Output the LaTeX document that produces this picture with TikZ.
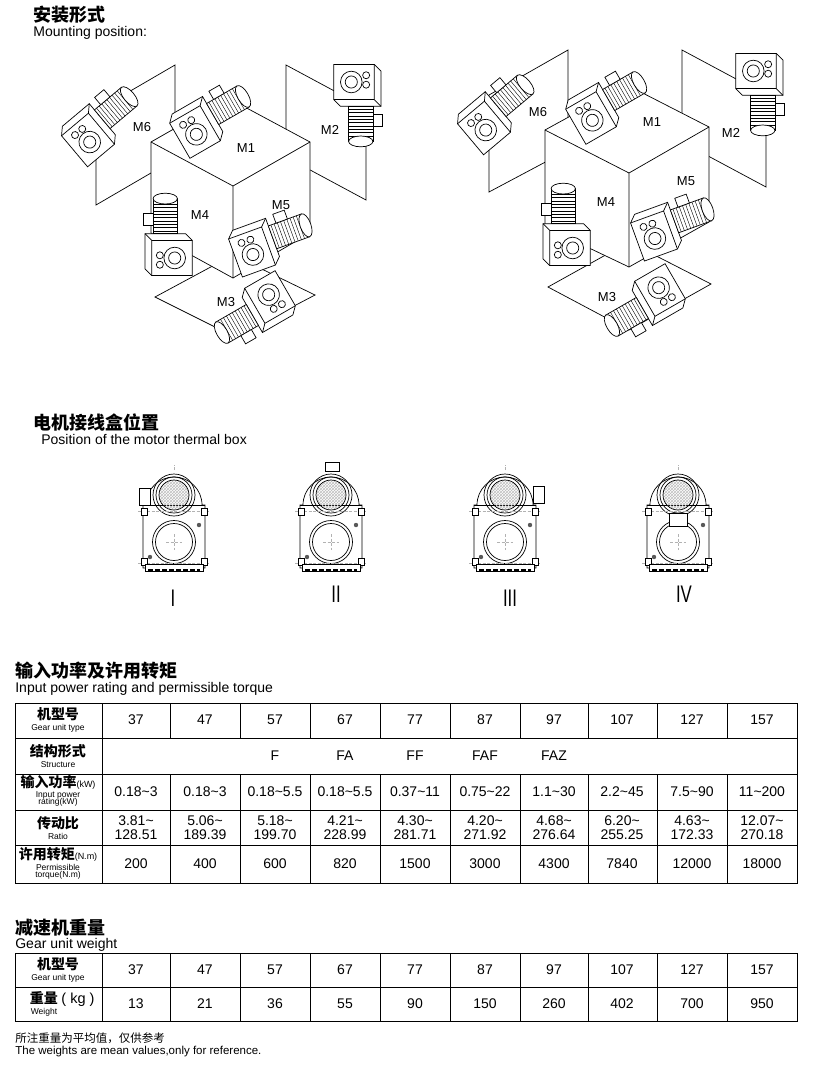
\documentclass[tikz,border=0pt]{standalone}
\usepackage{fontspec}
\setmainfont{Liberation Sans}
\newfontfamily\cjk{Noto Sans CJK SC}
\newcommand\hzf{\cjk\bfseries\fontsize{14}{14}\selectfont}
\usetikzlibrary{patterns}
\begin{document}
\begin{tikzpicture}[x=1pt,y=-1pt,line width=0.7pt,
  lab/.style={font=\fontsize{13}{13}\selectfont},
  hcn/.style={anchor=west,font=\cjk\bfseries\fontsize{18}{18}\selectfont,inner sep=0},
  hen/.style={anchor=west,font=\fontsize{14}{14}\selectfont,inner sep=0},
  cell/.style={font=\fontsize{14}{15}\selectfont,align=center,inner sep=0},
  hcell/.style={align=center,inner sep=0,font=\fontsize{8.5}{8}\selectfont},
  gm/.pic={
    \draw[fill=white] (-13,-15) -- (-8,-20) -- (18,-20) -- (18,10) -- (13,15) -- (-13,15) -- cycle;
    \draw (-13,-15) -- (13,-15) -- (13,15) (13,-15)--(18,-20);
    \draw (0,2) circle (8) (0,2) circle (4.5);
    \draw (-5,-9) circle (2.6) (2,-9) circle (2.6);
    \draw[fill=white] (18,-14) rectangle (44,4);
    \foreach \i in {20,22.5,...,40} \draw[line width=0.4pt] (\i,-14)--(\i,4);
    \draw[fill=white] (44,-5) ellipse (4 and 9);
    \draw[fill=white] (24,-21) rectangle (33,-14);
  },
  tb/.pic={
    \draw[fill=white] (-31,10) -- (-28,10) arc (180:360:28) -- (31,10) -- (31,73) -- (-31,73) -- cycle;
    \draw (-31,10) -- (31,10);
    \draw (0,0) circle (21) (0,0) circle (18);
    \draw[pattern=crosshatch,pattern color=gray!50] (0,0) circle (15);
    \draw (0,47) circle (21.5) (0,47) circle (18.5);
    \draw[gray!60,line width=0.3pt,dash pattern=on 3pt off 1.5pt] (-8,47)--(8,47) (0,39)--(0,55) (0,-25)--(0,-30) (-36,16)--(36,16) (-36,68)--(36,68);
    \foreach \x in {-33,27} {\draw[fill=white] (\x,13) rectangle ++(6,7); \draw[fill=white] (\x,63) rectangle ++(6,7);}
    \fill[gray!70!black] (25,30) circle (2.2) (-24,62) circle (2.2);
    \draw[fill=white] (-29,69) rectangle (29,76);
    \draw[line width=1.2pt,dash pattern=on 5pt off 2pt] (-26,75)--(26,75);
  }]
\useasboundingbox (0,0) rectangle (832,1080);
\fill[white] (0,0) rectangle (832,1080);

% headers
\node[hcn] (h1) at (33,15) {安装形式};
\node[hen] (h1e) at (33,33) {Mounting position:};
\node[hcn] (h2) at (33,422) {电机接线盒位置};
\node[hen] (h2e) at (41,439) {Position of the motor thermal box};
\node[hcn] (h3) at (15,671) {输入功率及许用转矩};
\node[hen] (h3e) at (15,689) {Input power rating and permissible torque};
\node[hcn] (h4) at (15,928) {减速机重量};
\node[hen] (h4e) at (15,945) {Gear unit weight};

% ---------- left cube ----------
\draw (96,111)--(175,65)--(175,159) (96,111)--(96,205)--(175,159);
\draw (286,65)--(366,108)--(366,200)--(286,157)--cycle;
\draw (155,297)--(233,255)--(315,295)--(235,337)--cycle;
\draw[fill=white] (151,142)--(228,98)--(310,142)--(310,233)--(233,278)--(151,233)--cycle;
\draw (151,142)--(233,186)--(310,142) (233,186)--(233,278);
\pic[rotate=30,scale=1.35] at (195,132) {gm};
\pic[rotate=40,scale=1.35] at (88,140) {gm};
\pic[rotate=-90,scale=1.35] at (354,82) {gm};
\pic[rotate=90,scale=1.35] at (172,258) {gm};
\pic[rotate=20,scale=1.35] at (252,252) {gm};
\pic[rotate=-150,scale=1.35] at (270,297) {gm};
\node[lab] (l6) at (142,127) {M6};
\node[lab] (l1) at (246,148) {M1};
\node[lab] (l2) at (330,130) {M2};
\node[lab] (l5) at (281,205) {M5};
\node[lab] (l4) at (200,215) {M4};
\node[lab] (l3) at (226,302) {M3};

% ---------- right cube ----------
\draw (489,95)--(568,50)--(568,150) (489,95)--(489,192)--(568,150);
\draw (682,50)--(766,95)--(766,187)--(682,142)--cycle;
\draw (548,287)--(629,242)--(711,284)--(629,330)--cycle;
\draw[fill=white] (545,130)--(627,85)--(709,127)--(709,222)--(629,267)--(545,227)--cycle;
\draw (545,130)--(629,173)--(709,127) (629,173)--(629,267);
\begin{scope}[shift={(394,-12)}]
\pic[rotate=30,scale=1.35] at (197,130) {gm};
\pic[rotate=40,scale=1.35] at (90,140) {gm};
\pic[rotate=-90,scale=1.35] at (362,83) {gm};
\pic[rotate=90,scale=1.35] at (176,260) {gm};
\pic[rotate=20,scale=1.35] at (260,248) {gm};
\pic[rotate=-150,scale=1.35] at (266,302) {gm};
\end{scope}
\node[lab] (r6) at (538,112) {M6};
\node[lab] (r1) at (652,122) {M1};
\node[lab] (r2) at (731,133) {M2};
\node[lab] (r5) at (686,181) {M5};
\node[lab] (r4) at (606,202) {M4};
\node[lab] (r3) at (607,297) {M3};

% ---------- thermal boxes ----------
\pic at (174,495) {tb};
\draw[fill=white] (139,488) rectangle (150,505);
\pic at (331,495) {tb};
\draw[fill=white] (325,462) rectangle (339,471);
\pic at (505,495) {tb};
\draw[fill=white] (533,486) rectangle (544,503);
\pic at (678,495) {tb};
\draw[fill=white] (669,513) rectangle (687,526);
\begin{scope}[font=\fontsize{24}{24}\selectfont]
\node (n1) at (173,598) {\scalebox{0.7}[1]{I}};
\node (n2) at (336,594) {\scalebox{0.7}[1]{II}};
\node (n3) at (510,598) {\scalebox{0.7}[1]{III}};
\node (n4) at (684,594) {\scalebox{0.7}[1]{IV}};
\end{scope}

% ---------- table 1 ----------
\draw[line width=1pt] (15,703) rectangle (797,883);
\foreach \y in {738,774,810,845} \draw (15,\y)--(797,\y);
\draw (102,703)--(102,883);
\foreach \x in {170,240,310,380,450,520,588,657,727} {\draw (\x,703)--(\x,738); \draw (\x,774)--(\x,883);}
\node[hcell] (c11) at (58,720) {{\hzf 机型号}\\[3pt]Gear unit type};
\node[hcell] (c21) at (58,756) {{\hzf 结构形式}\\[3pt]Structure};
\node[hcell] (c31) at (58,791) {{\hzf 输入功率}{\fontsize{9}{8}\selectfont(kW)}\\[2pt]Input power\\[-1pt]rating(kW)};
\node[hcell] (c41) at (58,828) {{\hzf 传动比}\\[3pt]Ratio};
\node[hcell] (c51) at (58,863) {{\hzf 许用转矩}{\fontsize{9}{8}\selectfont(N.m)}\\[2pt]Permissible\\[-1pt]torque(N.m)};
\foreach \x/\a/\b/\c/\d/\e [count=\i] in
 {136/37/0.18\textasciitilde3/3.81\textasciitilde/128.51/200,
  205/47/0.18\textasciitilde3/5.06\textasciitilde/189.39/400,
  275/57/0.18\textasciitilde5.5/5.18\textasciitilde/199.70/600,
  345/67/0.18\textasciitilde5.5/4.21\textasciitilde/228.99/820,
  415/77/0.37\textasciitilde11/4.30\textasciitilde/281.71/1500,
  485/87/0.75\textasciitilde22/4.20\textasciitilde/271.92/3000,
  554/97/1.1\textasciitilde30/4.68\textasciitilde/276.64/4300,
  622/107/2.2\textasciitilde45/6.20\textasciitilde/255.25/7840,
  692/127/7.5\textasciitilde90/4.63\textasciitilde/172.33/12000,
  762/157/11\textasciitilde200/12.07\textasciitilde/270.18/18000}
 {\node[cell] (t1a\i) at (\x,720) {\a};
  \node[cell] (t1b\i) at (\x,792) {\b};
  \node[cell] (t1c\i) at (\x,828) {\c\\[-1pt]\d};
  \node[cell] (t1d\i) at (\x,864) {\e};}
\foreach \x/\s [count=\i] in {275/F,345/FA,415/FF,485/FAF,554/FAZ}
 \node[cell] (st\i) at (\x,756) {\s};

% ---------- table 2 ----------
\draw[line width=1pt] (15,953) rectangle (797,1021);
\draw (15,987)--(797,987);
\foreach \x in {102,170,240,310,380,450,520,588,657,727} \draw (\x,953)--(\x,1021);
\node[hcell] (w11) at (58,970) {{\hzf 机型号}\\[3pt]Gear unit type};
\node[hcell] (w21) at (44,1004) {{\hzf 重量}\\[3pt]Weight};
\node[font=\fontsize{14.5}{15}\selectfont,inner sep=0] (kg) at (78,1000) {( kg )};
\foreach \x/\a/\b [count=\i] in {136/37/13,205/47/21,275/57/36,345/67/55,415/77/90,485/87/150,554/97/260,622/107/402,692/127/700,762/157/950}
 {\node[cell] (t2a\i) at (\x,970) {\a};
  \node[cell] (t2b\i) at (\x,1004) {\b};}
\node[anchor=west,inner sep=0,font=\cjk\fontsize{11.5}{12}\selectfont] (note1) at (15,1038) {所注重量为平均值，仅供参考};
\node[anchor=west,inner sep=0,font=\fontsize{11.5}{12}\selectfont] (note2) at (15,1052) {The weights are mean values,only for reference.};
\end{tikzpicture}
\end{document}
